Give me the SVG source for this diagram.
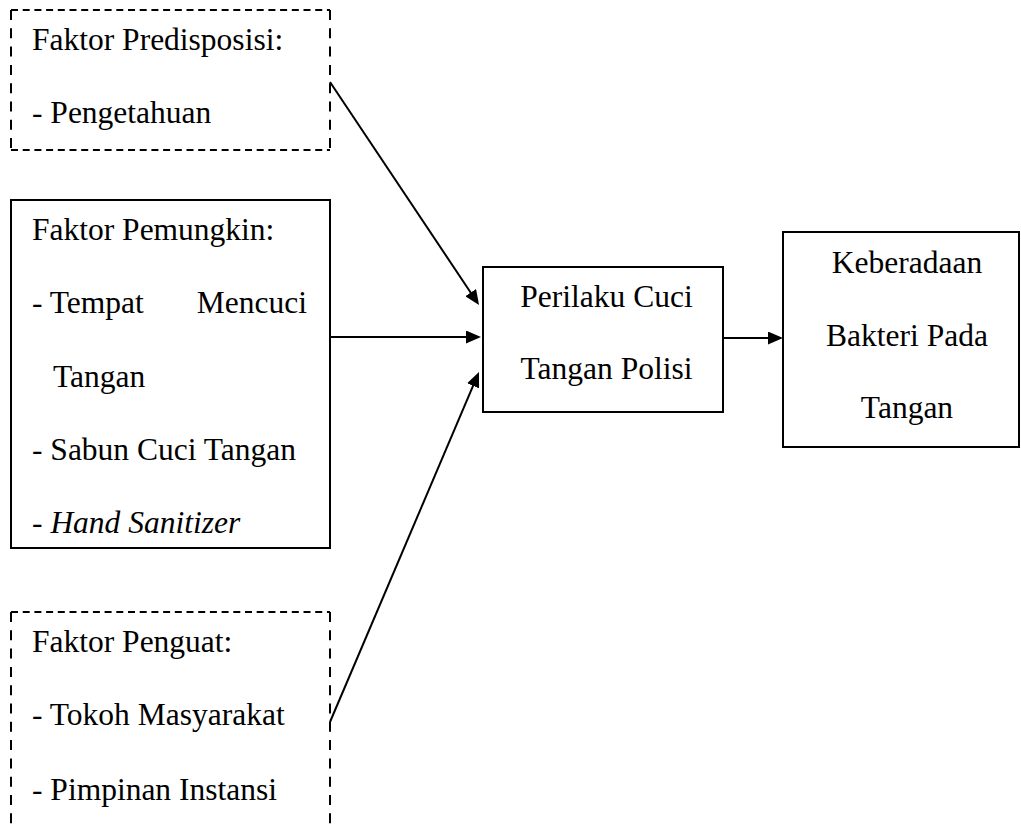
<svg xmlns="http://www.w3.org/2000/svg" width="1021" height="825" viewBox="0 0 1021 825">
<style>
text{font-family:"Liberation Serif","Times New Roman",serif;font-size:31.5px;fill:#000}
.box{fill:none;stroke:#000;stroke-width:2}
.dh{fill:none;stroke:#000;stroke-width:2;stroke-dasharray:7 4.7}
.dv{fill:none;stroke:#000;stroke-width:2;stroke-dasharray:10 8.3}
.c{text-anchor:middle}
.conn{fill:none;stroke:#000;stroke-width:2;marker-end:url(#ah)}
</style>
<defs>
<marker id="ah" markerUnits="userSpaceOnUse" markerWidth="15" markerHeight="13" refX="11" refY="6.5" orient="auto">
<path d="M0,0 L15,6.5 L0,13 Z" fill="#000"/>
</marker>
</defs>
<rect width="1021" height="825" fill="#fff"/>
<g id="predisposisi">
<path class="dh" d="M11,10 H330 M11,150 H330"/>
<path class="dv" d="M11,10 V150 M330,10 V150"/>
<text x="32" y="50">Faktor Predisposisi:</text>
<text x="32" y="123">- Pengetahuan</text>
</g>
<g id="pemungkin">
<rect class="box" x="11" y="200" width="319" height="348"/>
<text x="32" y="240">Faktor Pemungkin:</text>
<text x="32" y="313">- Tempat</text>
<text x="307" y="313" text-anchor="end">Mencuci</text>
<text x="53" y="387">Tangan</text>
<text x="32" y="460">- Sabun Cuci Tangan</text>
<text x="32" y="533">- <tspan font-style="italic">Hand Sanitizer</tspan></text>
</g>
<g id="penguat">
<path class="dh" d="M11,612 H330"/>
<path class="dv" d="M11,612 V830 M330,612 V830"/>
<text x="32" y="652">Faktor Penguat:</text>
<text x="32" y="725">- Tokoh Masyarakat</text>
<text x="32" y="800">- Pimpinan Instansi</text>
</g>
<g id="perilaku">
<rect class="box" x="483" y="267" width="240" height="145"/>
<text class="c" x="606.5" y="306.5">Perilaku Cuci</text>
<text class="c" x="606.5" y="379">Tangan Polisi</text>
</g>
<g id="keberadaan">
<rect class="box" x="783" y="232" width="236" height="215"/>
<text class="c" x="907" y="272.5">Keberadaan</text>
<text class="c" x="907" y="346">Bakteri Pada</text>
<text class="c" x="907" y="418">Tangan</text>
</g>
<g id="connectors">
<path class="conn" d="M330,82 L476.8,301.7"/>
<path class="conn" d="M330,337 L477,337"/>
<path class="conn" d="M330,722 L477.4,375.7"/>
<path class="conn" d="M723,338 L779,338"/>
</g>
</svg>
